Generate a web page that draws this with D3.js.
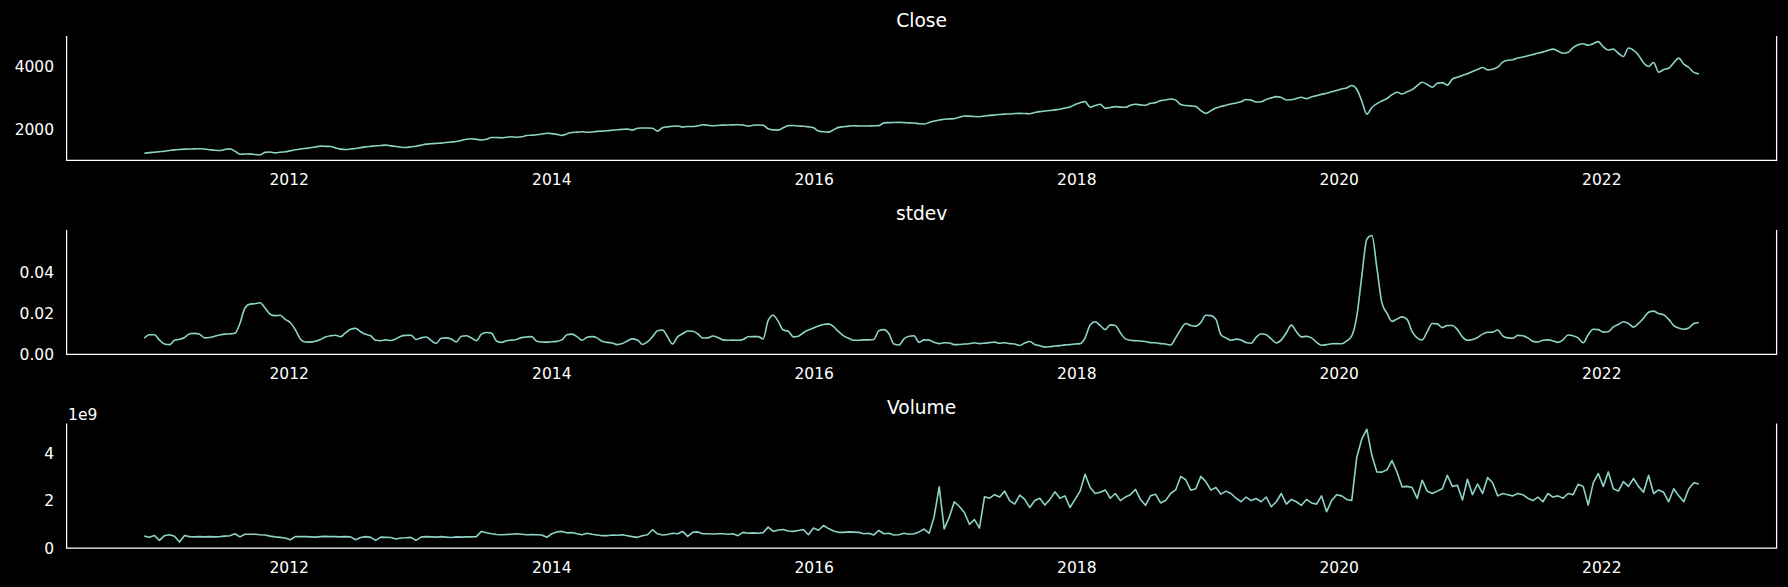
<!DOCTYPE html>
<html>
<head>
<meta charset="utf-8">
<script src="https://cdn.jsdelivr.net/npm/d3@7"></script>
<style>
    html, body { margin: 0; background: #000; }
    svg { display: block; }
    text { font-family: "DejaVu Sans", sans-serif; fill: #fff; }
</style>
</head>
<body>
<svg id="chart" width="1788" height="587"></svg>
<script>
/**
 * Three stacked panels: rolling close, rolling stdev of returns and volume, one point every 14 days
 */

var firstDate = new Date(Date.UTC(2010, 10, 24));
var lastDate = new Date(Date.UTC(2022, 8, 28));

var close = [
    1265,1282,1296,1312,1328,1350,1370,1382,1391,1396,1400,1405,1395,1375,1355,1349,1380,1401,1330,1233,
    1238,1244,1225,1216,1290,1300,1275,1295,1310,1339,1370,1395,1415,1433,1460,1485,1480,1475,1430,1391,
    1380,1395,1412,1440,1464,1480,1496,1508,1517,1495,1475,1452,1443,1465,1485,1515,1548,1560,1572,1580,
    1598,1615,1633,1665,1700,1717,1700,1680,1700,1755,1755,1750,1765,1780,1765,1780,1820,1830,1843,1865,
    1890,1880,1855,1825,1870,1915,1925,1937,1920,1930,1950,1958,1970,1985,2000,2012,2021,1990,2045,2053,
    2053,2045,1958,2060,2090,2110,2116,2084,2100,2100,2120,2155,2140,2126,2135,2145,2150,2152,2158,2150,
    2116,2140,2147,2140,2030,1995,1990,2060,2130,2135,2116,2110,2090,2060,1958,1935,1927,2000,2074,2095,
    2115,2126,2120,2116,2120,2126,2130,2215,2225,2230,2231,2225,2215,2210,2190,2179,2230,2275,2305,2330,
    2340,2347,2390,2431,2425,2415,2410,2430,2452,2465,2480,2490,2495,2508,2515,2510,2504,2540,2570,2588,
    2605,2625,2641,2680,2714,2790,2850,2882,2704,2760,2798,2672,2700,2725,2710,2704,2767,2798,2780,2767,
    2830,2851,2914,2935,2966,2930,2790,2760,2750,2730,2600,2514,2600,2680,2730,2770,2810,2840,2880,2950,
    2930,2870,2880,2950,3000,3040,3010,2935,2940,2980,3020,2977,3030,3070,3110,3145,3190,3229,3280,3313,
    3390,3271,2900,2490,2700,2820,2900,2980,3100,3176,3124,3190,3260,3380,3490,3420,3334,3460,3480,3400,
    3586,3650,3705,3760,3830,3890,3953,3880,3900,3964,4120,4180,4195,4250,4280,4320,4360,4400,4436,4490,
    4531,4470,4400,4430,4580,4667,4699,4650,4700,4764,4600,4500,4531,4400,4300,4563,4500,4340,4100,3985,
    4111,3806,3890,3930,4100,4247,4060,3953,3800,3754
];

var stdev = [
    .0078,.0095,.0095,.0070,.0050,.0047,.0068,.0073,.0082,.0100,.0102,.0097,.0080,.0082,.0088,.0094,.0098,.0099,.0102,.0150,
    .0225,.0244,.0246,.0251,.0225,.0195,.0188,.0190,.0170,.0155,.0120,.0075,.0060,.0059,.0063,.0072,.0084,.0090,.0093,.0086,
    .0105,.0122,.0126,.0110,.0097,.0090,.0068,.0066,.0070,.0067,.0075,.0088,.0092,.0093,.0072,.0080,.0084,.0068,.0053,.0078,
    .0080,.0074,.0060,.0088,.0090,.0080,.0066,.0098,.0106,.0103,.0065,.0058,.0066,.0069,.0072,.0081,.0084,.0086,.0064,.0060,
    .0059,.0061,.0063,.0070,.0095,.0098,.0086,.0068,.0083,.0086,.0080,.0063,.0058,.0055,.0047,.0052,.0065,.0075,.0070,.0048,
    .0060,.0085,.0115,.0118,.0085,.0050,.0085,.0100,.0113,.0112,.0100,.0079,.0080,.0089,.0082,.0070,.0068,.0069,.0068,.0072,
    .0085,.0086,.0086,.0075,.0165,.0190,.0160,.0118,.0112,.0085,.0088,.0105,.0118,.0128,.0138,.0145,.0148,.0135,.0110,.0090,
    .0078,.0068,.0068,.0070,.0070,.0072,.0115,.0120,.0100,.0050,.0045,.0075,.0088,.0090,.0058,.0070,.0069,.0058,.0052,.0056,
    .0055,.0047,.0048,.0050,.0051,.0056,.0052,.0054,.0057,.0059,.0054,.0056,.0052,.0050,.0043,.0055,.0062,.0048,.0042,.0035,
    .0037,.0040,.0042,.0046,.0047,.0050,.0052,.0080,.0143,.0158,.0140,.0120,.0143,.0140,.0105,.0075,.0068,.0066,.0065,.0062,
    .0057,.0056,.0052,.0050,.0045,.0080,.0120,.0150,.0140,.0137,.0155,.0190,.0188,.0170,.0095,.0080,.0068,.0074,.0070,.0057,
    .0054,.0082,.0100,.0095,.0075,.0055,.0070,.0105,.0142,.0110,.0085,.0087,.0080,.0058,.0044,.0047,.0051,.0052,.0051,.0065,
    .0090,.0185,.0380,.0560,.0578,.0420,.0250,.0200,.0160,.0172,.0182,.0170,.0110,.0080,.0070,.0110,.0150,.0148,.0130,.0140,
    .0140,.0120,.0085,.0068,.0072,.0082,.0098,.0107,.0108,.0118,.0090,.0080,.0078,.0092,.0090,.0080,.0063,.0060,.0068,.0070,
    .0065,.0058,.0070,.0094,.0090,.0080,.0056,.0095,.0122,.0120,.0108,.0110,.0133,.0145,.0158,.0150,.0132,.0150,.0175,.0205,
    .0210,.0198,.0192,.0170,.0140,.0128,.0122,.0128,.0150,.0155
];

// volume in billions of shares (axis shows the 1e9 offset)
var volumeBn = [
    .50,.45,.53,.32,.52,.56,.50,.25,.53,.48,.47,.48,.47,.48,.47,.48,.50,.52,.60,.47,
    .58,.58,.58,.56,.55,.50,.47,.45,.42,.35,.48,.48,.48,.47,.46,.48,.49,.48,.48,.47,
    .48,.47,.35,.44,.48,.45,.32,.46,.45,.44,.38,.42,.43,.45,.32,.46,.48,.47,.46,.48,
    .46,.44,.47,.46,.47,.47,.48,.70,.64,.60,.57,.56,.57,.58,.60,.58,.56,.57,.56,.55,
    .45,.60,.68,.70,.64,.65,.60,.56,.62,.58,.55,.52,.52,.55,.54,.56,.52,.48,.45,.52,
    .56,.77,.60,.55,.57,.62,.60,.70,.49,.66,.68,.60,.60,.59,.60,.60,.58,.60,.52,.66,
    .62,.64,.62,.65,.88,.70,.76,.78,.72,.70,.74,.78,.56,.84,.75,.95,.82,.72,.66,.66,
    .68,.67,.66,.60,.62,.55,.74,.60,.62,.55,.56,.62,.58,.60,.68,.80,.62,1.32,2.58,.80,
    1.30,1.95,1.75,1.50,1.00,1.20,.84,2.16,2.10,2.25,2.15,2.40,2.00,1.85,2.23,2.05,1.71,2.00,2.10,1.81,
    2.05,2.37,2.10,2.20,1.71,2.05,2.40,3.11,2.55,2.30,2.35,2.45,2.10,2.30,2.00,2.15,2.25,2.47,2.05,1.80,
    2.20,2.27,1.90,2.00,2.30,2.45,3.02,2.88,2.44,2.50,3.02,2.80,2.44,2.55,2.27,2.40,2.30,2.10,1.95,2.15,
    2.00,2.09,1.95,2.15,1.74,1.95,2.30,1.85,2.05,1.95,1.80,2.05,1.90,1.85,2.20,1.53,2.00,2.25,2.20,2.05,
    2.00,3.83,4.60,5.01,3.90,3.21,3.20,3.30,3.69,3.20,2.58,2.60,2.55,2.09,2.86,2.40,2.30,2.40,2.50,3.07,
    2.60,2.65,2.02,2.90,2.25,2.70,2.30,2.97,2.75,2.20,2.30,2.25,2.20,2.30,2.25,2.10,2.00,2.15,1.95,2.30,
    2.15,2.20,2.10,2.30,2.25,2.69,2.60,1.81,2.75,3.14,2.60,3.21,2.50,2.40,2.80,2.60,2.93,2.60,2.35,3.07,
    2.30,2.45,2.35,1.95,2.50,2.20,1.95,2.50,2.75,2.70
];

var yearTicks = [2012, 2014, 2016, 2018, 2020, 2022];
var closeTicks = [2000, 4000];
var stdevTicks = [0, 0.02, 0.04];
var volumeTicks = [0, 2, 4];

var lineColor = '#8dd3c7';
var left = 66.6, right = 1776.6, panelHeight = 124.4;

var svg = d3.select('#chart');
svg.append('rect').attr('width', 1788).attr('height', 587).attr('fill', '#000');

// one point every 14 days
var dates = d3.utcDay.range(firstDate, d3.utcDay.offset(lastDate, 1), 14);

var span = lastDate - firstDate;
var x = d3.scaleUtc()
    .domain([new Date(+firstDate - span * 0.05), new Date(+lastDate + span * 0.05)])
    .range([left, right]);

function drawPanel(opts) {
    var n = Math.min(dates.length, opts.values.length);
    var pts = [];
    for (var i = 0; i < n; i++) {
        pts.push({date: dates[i], value: opts.values[i]});
    }
    var lo = d3.min(opts.values), hi = d3.max(opts.values);
    var pad = (hi - lo) * 0.05;
    var bottom = opts.top + panelHeight;
    var y = d3.scaleLinear()
        .domain([opts.zeroBottom ? 0 : lo - pad, hi + pad])
        .range([bottom, opts.top]);

    var g = svg.append('g');

    g.append('path')
        .datum(pts)
        .attr('fill', 'none')
        .attr('stroke', lineColor)
        .attr('stroke-width', 1.6)
        .attr('stroke-linejoin', 'round')
        .attr('d', d3.line()
            .curve(opts.curve || d3.curveLinear)
            .x(function (d) { return x(d.date); })
            .y(function (d) { return y(d.value); }));

    // spines: left, bottom, right
    g.append('path')
        .attr('fill', 'none')
        .attr('stroke', '#fff')
        .attr('stroke-width', 1.25)
        .attr('d', 'M' + left + ',' + opts.top + 'V' + bottom + 'H' + right + 'V' + opts.top);

    g.selectAll('.ytick')
        .data(opts.ticks)
        .enter().append('text')
        .attr('x', left - 12.5)
        .attr('y', function (d) { return y(d); })
        .attr('dy', '0.36em')
        .attr('text-anchor', 'end')
        .style('font-size', '15.5px')
        .text(opts.format);

    g.selectAll('.xtick')
        .data(yearTicks)
        .enter().append('text')
        .attr('x', function (d) { return x(new Date(Date.UTC(d, 0, 1))); })
        .attr('y', bottom + 25)
        .attr('text-anchor', 'middle')
        .style('font-size', '15.5px')
        .text(function (d) { return d; });

    g.append('text')
        .attr('x', (left + right) / 2)
        .attr('y', opts.top - 9.5)
        .attr('text-anchor', 'middle')
        .style('font-size', '18.6px')
        .text(opts.title);

    if (opts.offsetLabel) {
        g.append('text')
            .attr('x', left + 1.5)
            .attr('y', opts.top - 3.5)
            .style('font-size', '15.5px')
            .text(opts.offsetLabel);
    }
}

drawPanel({title: 'Close', values: close, top: 36, ticks: closeTicks, format: d3.format('d'), zeroBottom: false, curve: d3.curveMonotoneX});
drawPanel({title: 'stdev', values: stdev, top: 229.9, ticks: stdevTicks, format: d3.format('.2f'), zeroBottom: true, curve: d3.curveMonotoneX});
drawPanel({title: 'Volume', values: volumeBn, top: 423.6, ticks: volumeTicks, format: d3.format('d'), zeroBottom: true, offsetLabel: '1e9'});
</script>
</body>
</html>
